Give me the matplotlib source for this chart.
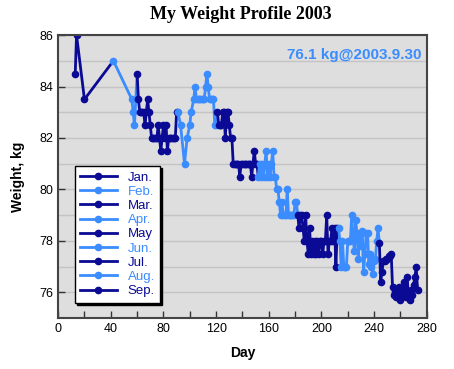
import matplotlib
matplotlib.use("Agg")
import matplotlib.pyplot as plt
from matplotlib.ticker import MultipleLocator

# colours alternate month by month
dark = "#0a0a94"
light = "#3a8cff"

months = ["Jan.", "Feb.", "Mar.", "Apr.", "May", "Jun.", "Jul.", "Aug.", "Sep."]

jan_days = [13, 14, 20]
jan_kg = [84.5, 86.0, 83.5]

feb_days = [42, 56, 57, 58]
feb_kg = [85.0, 83.5, 83.0, 82.5]

mar_days = list(range(60, 91))
mar_kg = [84.5, 83.5, 83.0, 83.0, 83.0, 83.0, 82.5, 83.0, 83.5, 83.0,
          82.5, 82.0, 82.0, 82.0, 82.0, 82.0, 82.5, 82.0, 81.5, 82.0,
          82.5, 82.0, 82.5, 81.5, 82.0, 82.0, 82.0, 82.0, 82.0, 82.0, 83.0]

apr_days = [91, 93, 96, 98, 100, 101, 103, 104, 105, 106, 107, 108, 109,
            110, 111, 112, 113, 114, 115, 116, 117, 118, 119, 120]
apr_kg = [83.0, 82.5, 81.0, 82.0, 82.5, 83.0, 83.5, 84.0, 83.5, 83.5, 83.5,
          83.5, 83.5, 83.5, 83.5, 84.0, 84.5, 84.0, 83.5, 83.5, 83.5, 83.5,
          82.5, 82.5]

may_days = list(range(121, 152))
may_kg = [83.0, 82.5, 82.5, 82.5, 83.0, 83.0, 82.0, 83.0, 83.0, 82.5,
          82.0, 82.0, 81.0, 81.0, 81.0, 81.0, 81.0, 80.5, 81.0, 81.0,
          81.0, 81.0, 81.0, 81.0, 81.0, 81.0, 80.5, 81.0, 81.5, 81.0, 81.0]

jun_days = list(range(152, 182))
jun_kg = [80.5, 81.0, 80.5, 81.0, 80.5, 81.0, 81.5, 80.5, 81.0, 80.5,
          81.0, 81.5, 80.5, 80.5, 80.0, 80.0, 79.5, 79.0, 79.5, 79.0,
          79.0, 79.0, 80.0, 79.0, 79.0, 79.0, 79.0, 79.0, 79.5, 79.5]

jul_days = list(range(182, 213))
jul_kg = [79.0, 78.5, 79.0, 79.0, 78.5, 78.0, 79.0, 78.0, 77.5, 78.5,
          77.5, 78.0, 77.5, 78.0, 77.5, 78.0, 77.5, 78.0, 78.0, 77.5,
          78.0, 78.0, 79.0, 77.5, 78.0, 78.0, 78.5, 78.0, 78.5, 77.0, 78.5]

aug_days = list(range(213, 244))
aug_kg = [78.5, 78.0, 77.0, 78.0, 77.0, 77.0, 77.0, 78.0, 78.0, 78.0,
          79.0, 78.2, 77.6, 78.8, 78.3, 77.3, 78.3, 77.8, 78.4, 76.8,
          77.5, 78.3, 78.3, 77.1, 77.5, 77.0, 76.7, 77.2, 77.3, 78.0, 78.5]

sep_days = list(range(244, 274))
sep_kg = [77.9, 76.4, 76.8, 77.2, 77.2, 77.3, 77.3, 77.4, 77.4, 77.5,
          76.2, 75.9, 76.0, 75.8, 75.9, 76.2, 75.7, 75.9, 76.0, 76.4,
          75.8, 76.6, 76.0, 75.7, 76.1, 75.9, 76.3, 76.6, 77.0, 76.1]

all_days = [jan_days, feb_days, mar_days, apr_days, may_days,
            jun_days, jul_days, aug_days, sep_days]
all_kg = [jan_kg, feb_kg, mar_kg, apr_kg, may_kg,
          jun_kg, jul_kg, aug_kg, sep_kg]

fig = plt.figure(figsize=(4.54, 3.69), dpi=100)
ax = fig.add_axes([0.128, 0.138, 0.812, 0.767])
ax.set_facecolor("#dedede")

for i, (d, w) in enumerate(zip(all_days, all_kg)):
    c = dark if i % 2 == 0 else light
    # link to first point of the next month in this month's colour
    if i + 1 < len(all_days):
        ax.plot([d[-1], all_days[i + 1][0]], [w[-1], all_kg[i + 1][0]],
                color=c, lw=2, zorder=2 + i)
    ax.plot(d, w, "-o", color=c, lw=2, ms=4.5, label=months[i], zorder=2 + i)

ax.set_xlim(0, 280)
ax.set_ylim(75, 86)
ax.xaxis.set_major_locator(MultipleLocator(40))
ax.xaxis.set_minor_locator(MultipleLocator(20))
ax.yaxis.set_major_locator(MultipleLocator(2))
ax.yaxis.set_minor_locator(MultipleLocator(1))
ax.grid(True, axis="y", which="both", color="#c4c4c4", lw=1)
ax.set_axisbelow(True)
ax.tick_params(which="both", direction="in", length=5, width=1,
               color="#333333", labelsize=9)
ax.tick_params(axis="y", which="minor", length=0)
for lbl in ax.get_xticklabels() + ax.get_yticklabels():
    lbl.set_family("Liberation Sans")
for s in ax.spines.values():
    s.set_color("#444444")
    s.set_linewidth(1.5)

ax.set_xlabel("Day", fontsize=10, fontweight="bold",
              family="Liberation Sans", labelpad=8)
ax.set_ylabel("Weight, kg", fontsize=10, fontweight="bold",
              family="Liberation Sans", labelpad=10)
fig.suptitle("My Weight Profile 2003", x=0.53, y=0.985, fontsize=13,
             fontweight="bold", family="Liberation Serif")

ax.text(0.985, 0.955, "76.1 kg@2003.9.30", transform=ax.transAxes,
        ha="right", va="top", color=light, fontsize=11, fontweight="bold",
        family="Liberation Sans")

leg = ax.legend(loc="lower left", bbox_to_anchor=(0.045, 0.055),
                borderaxespad=0, numpoints=1, handlelength=2.8,
                labelspacing=0.15, fancybox=False,
                edgecolor="black", framealpha=1,
                shadow={"color": "black", "alpha": 1, "ox": 1.5, "oy": -1.5},
                prop={"family": "Liberation Sans", "size": 9.5})
leg.get_frame().set_linewidth(1)
for t, line in zip(leg.get_texts(), leg.get_lines()):
    t.set_color(line.get_color())

fig.savefig("out.png", dpi=100)
